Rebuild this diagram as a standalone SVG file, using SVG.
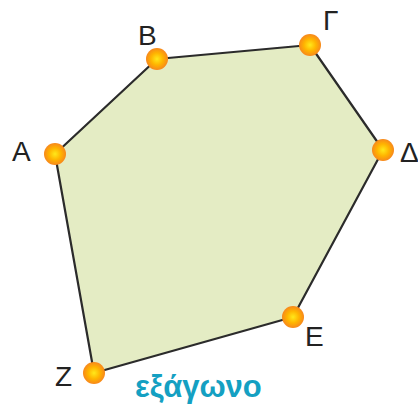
<svg xmlns="http://www.w3.org/2000/svg" width="418" height="407" viewBox="0 0 418 407">
<defs>
<radialGradient id="dot" cx="0.5" cy="0.5" r="0.5">
<stop offset="0" stop-color="#ffe81a"/>
<stop offset="0.55" stop-color="#ffb300"/>
<stop offset="1" stop-color="#f7881c"/>
</radialGradient>
<style>
.lbl{font-family:"Liberation Sans",Arial,sans-serif;font-size:28px;fill:#222}
.dot{fill:url(#dot)}
</style>
</defs>
<rect width="418" height="407" fill="#fff"/>
<g id="connectors">
<polygon points="55,154 157,59 310,45 383,150 293,317 94,373" fill="#e4ecc4" stroke="#2b2b2b" stroke-width="2.2" stroke-linejoin="round"/>
</g>
<g id="A"><circle class="dot" cx="55" cy="154" r="11"/><text class="lbl" x="12" y="161">A</text></g>
<g id="B"><circle class="dot" cx="157" cy="59" r="11"/><text class="lbl" x="138" y="45">B</text></g>
<g id="G"><circle class="dot" cx="310" cy="45" r="11"/><text class="lbl" x="323" y="30">Γ</text></g>
<g id="D"><circle class="dot" cx="383" cy="150" r="11"/><text class="lbl" x="400" y="162">Δ</text></g>
<g id="E"><circle class="dot" cx="293" cy="317" r="11"/><text class="lbl" x="305" y="346">E</text></g>
<g id="Z"><circle class="dot" cx="94" cy="373" r="11"/><text class="lbl" x="55" y="386">Z</text></g>
<text x="135" y="397" font-family="'Liberation Sans',Arial,sans-serif" font-size="31" font-weight="bold" fill="#14a0c2">εξάγωνο</text>
</svg>
